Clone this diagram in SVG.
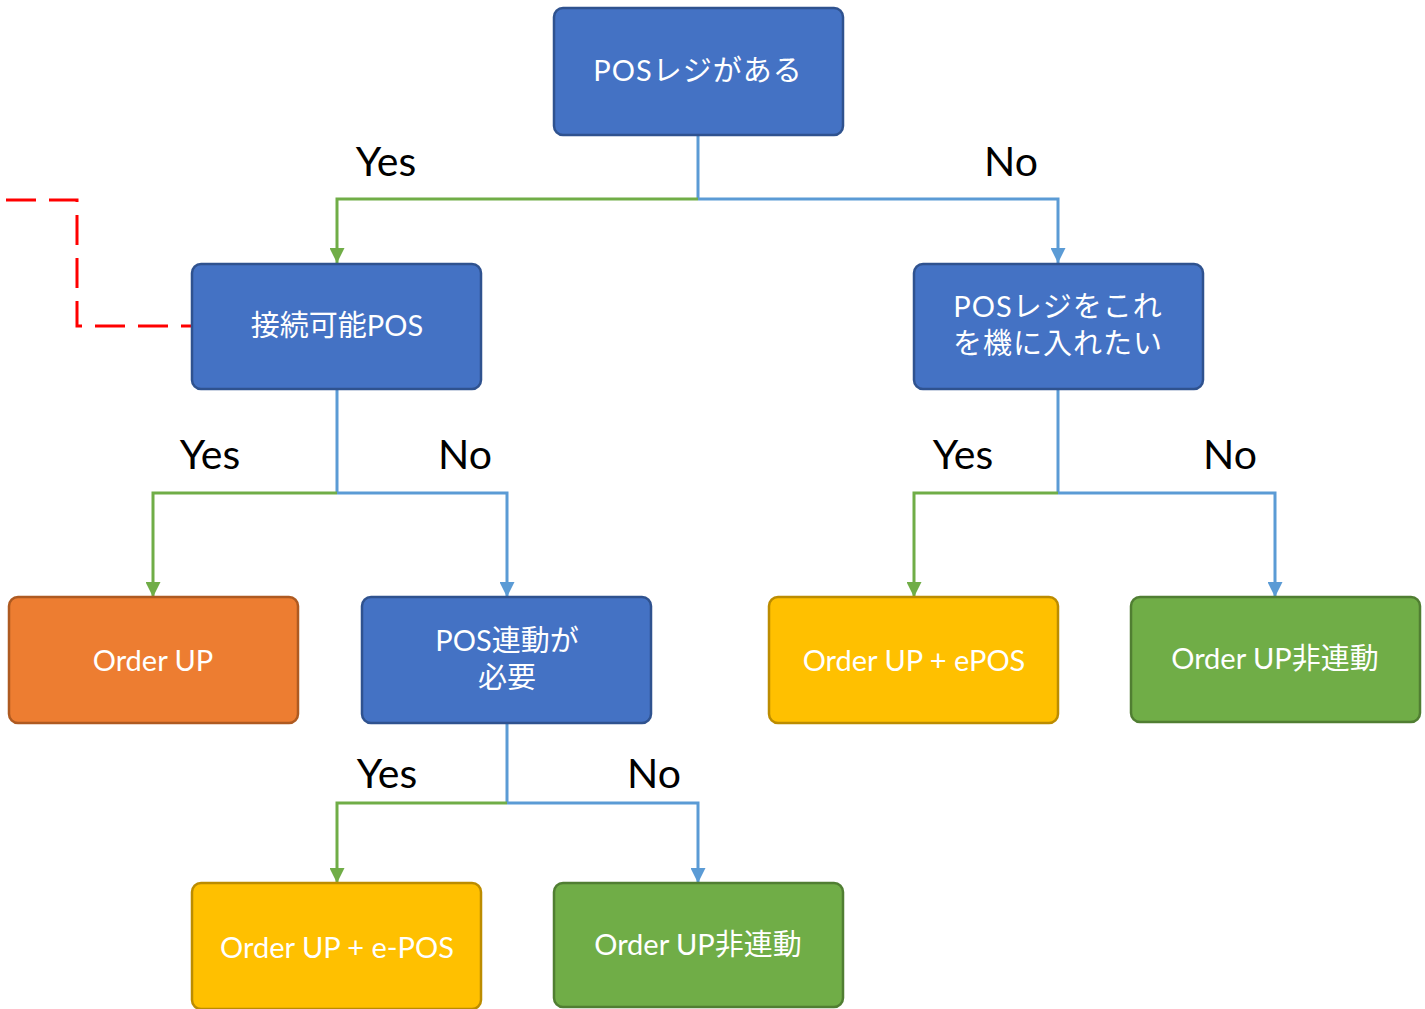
<svg xmlns="http://www.w3.org/2000/svg" width="1425" height="1009" viewBox="0 0 1425 1009">
<style>
.n rect{stroke-width:2.5}
.blue rect{fill:#4472C4;stroke:#2F528F}
.orange rect{fill:#ED7D31;stroke:#AE5A21}
.yellow rect{fill:#FFC000;stroke:#BC8C00}
.green rect{fill:#70AD47;stroke:#507E32}
.n text{fill:#fff;font-family:Lato,"Noto Sans CJK JP",sans-serif;font-size:29px;text-anchor:middle;dominant-baseline:central}
.lbl{fill:#000;font-family:Lato,"Noto Sans",sans-serif;font-size:41px;text-anchor:middle}
.cg{fill:none;stroke:#70AD47;stroke-width:3;marker-end:url(#ag)}
.cb{fill:none;stroke:#5B9BD5;stroke-width:3;marker-end:url(#ab)}
.st{fill:none;stroke:#5B9BD5;stroke-width:3}
</style>
<defs>
<marker id="ag" markerUnits="userSpaceOnUse" markerWidth="15" markerHeight="15" viewBox="0 0 15 15" refX="15" refY="7.5" orient="auto"><path d="M0,0 L15,7.5 L0,15 Z" fill="#70AD47"/></marker>
<marker id="ab" markerUnits="userSpaceOnUse" markerWidth="15" markerHeight="15" viewBox="0 0 15 15" refX="15" refY="7.5" orient="auto"><path d="M0,0 L15,7.5 L0,15 Z" fill="#5B9BD5"/></marker>
</defs>
<g id="connectors">
<path class="st" d="M698,135 V199"/>
<path class="cg" d="M698,199 H337 V263"/>
<path class="cb" d="M698,199 H1058 V263"/>
<path class="st" d="M337,389 V493"/>
<path class="cg" d="M337,493 H153 V597"/>
<path class="cb" d="M337,493 H507 V597"/>
<path class="st" d="M1058,390 V493"/>
<path class="cg" d="M1058,493 H914 V597"/>
<path class="cb" d="M1058,493 H1275 V597"/>
<path class="st" d="M507,723 V803"/>
<path class="cg" d="M507,803 H337 V883"/>
<path class="cb" d="M507,803 H698 V883"/>
<path d="M6,200 H77 V326 H192" fill="none" stroke="#FF0000" stroke-width="3" stroke-dasharray="30,13"/>
</g>
<g id="labels">
<text class="lbl" x="386" y="176">Yes</text>
<text class="lbl" x="1011" y="176">No</text>
<text class="lbl" x="210" y="469">Yes</text>
<text class="lbl" x="465" y="469">No</text>
<text class="lbl" x="963" y="469">Yes</text>
<text class="lbl" x="1230" y="469">No</text>
<text class="lbl" x="387" y="788">Yes</text>
<text class="lbl" x="654" y="788">No</text>
</g>
<g id="n1" class="n blue"><rect x="554" y="8" width="289" height="127" rx="9"/><text x="698" y="69" letter-spacing="1">POSレジがある</text></g>
<g id="n2" class="n blue"><rect x="192" y="264" width="289" height="125" rx="9"/><text x="337" y="324">接続可能POS</text></g>
<g id="n3" class="n blue"><rect x="914" y="264" width="289" height="125" rx="9"/><text x="1058" y="305" letter-spacing="1">POSレジをこれ</text><text x="1058" y="342" letter-spacing="1">を機に入れたい</text></g>
<g id="n4" class="n orange"><rect x="9" y="597" width="289" height="126" rx="9"/><text x="153" y="659">Order UP</text></g>
<g id="n5" class="n blue"><rect x="362" y="597" width="289" height="126" rx="9"/><text x="507" y="639">POS連動が</text><text x="507" y="676">必要</text></g>
<g id="n6" class="n yellow"><rect x="769" y="597" width="289" height="126" rx="9"/><text x="914" y="659">Order UP + ePOS</text></g>
<g id="n7" class="n green"><rect x="1131" y="597" width="289" height="125" rx="9"/><text x="1275" y="657">Order UP非連動</text></g>
<g id="n8" class="n yellow"><rect x="192" y="883" width="289" height="126" rx="9"/><text x="337" y="946">Order UP + e-POS</text></g>
<g id="n9" class="n green"><rect x="554" y="883" width="289" height="124" rx="9"/><text x="698" y="943">Order UP非連動</text></g>
</svg>
